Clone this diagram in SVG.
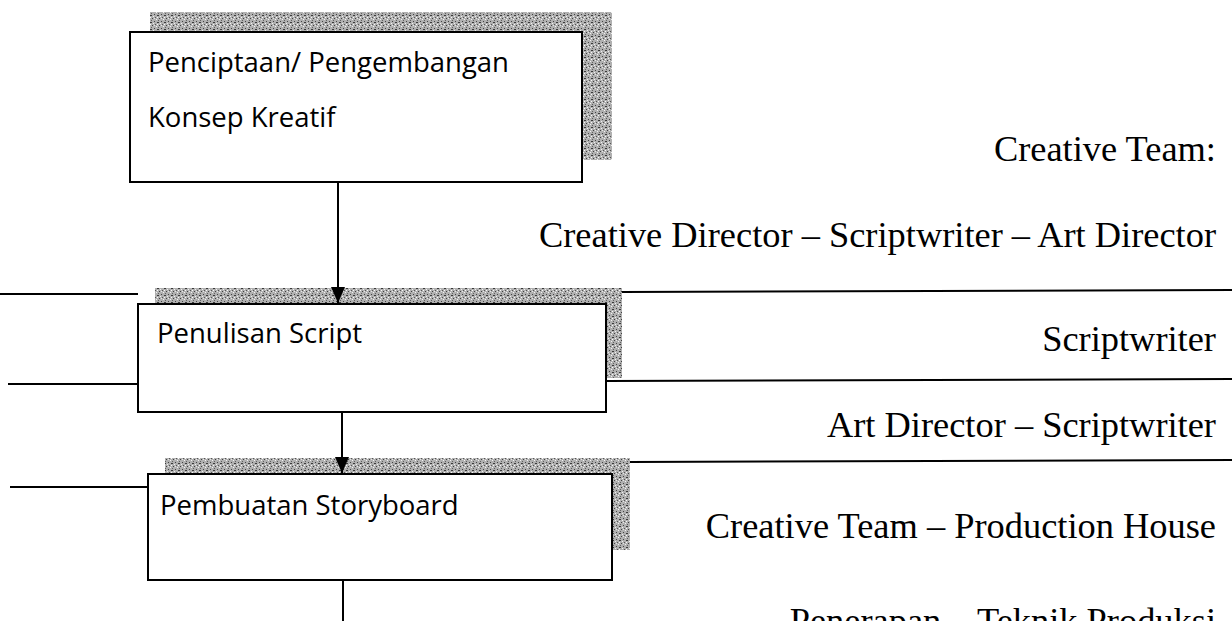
<svg xmlns="http://www.w3.org/2000/svg" width="1232" height="621" viewBox="0 0 1232 621">
  <defs>
    <pattern id="grain" width="7" height="7" patternUnits="userSpaceOnUse">
      <rect width="7" height="7" fill="#b0b0b0"/>
      <rect x="0" y="0" width="1" height="1" fill="#444"/>
      <rect x="3" y="1" width="2" height="1" fill="#3a3a3a"/>
      <rect x="1" y="3" width="1" height="1" fill="#555"/>
      <rect x="5" y="4" width="1" height="1" fill="#404040"/>
      <rect x="2" y="5" width="1" height="1" fill="#f2f2f2"/>
      <rect x="6" y="2" width="1" height="1" fill="#f0f0f0"/>
      <rect x="4" y="6" width="1" height="1" fill="#606060"/>
      <rect x="0" y="4" width="1" height="1" fill="#e8e8e8"/>
      <rect x="3" y="3" width="1" height="1" fill="#fafafa"/>
    </pattern>
    <marker id="arrow" viewBox="0 0 16 14" refX="16" refY="7" markerWidth="16" markerHeight="14" markerUnits="userSpaceOnUse" orient="auto">
      <path d="M0,0 L16,7 L0,14 z" fill="#000"/>
    </marker>
  </defs>
  <style>
    .shadow { fill: url(#grain); }
    .box { fill: #fff; stroke: #000; stroke-width: 2; }
    .boxtext { font-family: "Open Sans", "Liberation Sans", sans-serif; font-size: 27.5px; fill: #000; }
    .role { font-family: "Liberation Serif", serif; font-size: 36.4px; fill: #000; text-anchor: end; }
    .line { stroke: #000; stroke-width: 2; fill: none; }
  </style>
  <rect width="1232" height="621" fill="#fff"/>

  <g id="node-konsep">
    <rect class="shadow" x="150" y="12" width="462" height="148"/>
    <rect class="box" x="130" y="32" width="452" height="150"/>
    <text class="boxtext" x="148" y="72">Penciptaan/ Pengembangan</text>
    <text class="boxtext" x="148" y="127">Konsep Kreatif</text>
  </g>

  <g id="node-script">
    <rect class="shadow" x="155" y="288" width="467" height="90"/>
    <rect class="box" x="138" y="304" width="468" height="108"/>
    <text class="boxtext" x="157" y="343">Penulisan Script</text>
  </g>

  <g id="node-storyboard">
    <rect class="shadow" x="165" y="458" width="465" height="92"/>
    <rect class="box" x="148" y="474" width="464" height="106"/>
    <text class="boxtext" x="160" y="515">Pembuatan Storyboard</text>
  </g>

  <g id="connectors">
    <line class="line" x1="338" y1="182" x2="338" y2="303" marker-end="url(#arrow)"/>
    <line class="line" x1="342" y1="412" x2="342" y2="473" marker-end="url(#arrow)"/>
    <line class="line" x1="343" y1="580" x2="343" y2="621"/>
    <line class="line" x1="0" y1="294" x2="138" y2="294"/>
    <line class="line" x1="622" y1="292" x2="1232" y2="290"/>
    <line class="line" x1="8" y1="384" x2="138" y2="384"/>
    <line class="line" x1="606" y1="381" x2="1232" y2="379"/>
    <line class="line" x1="10" y1="487" x2="148" y2="487"/>
    <line class="line" x1="630" y1="462" x2="1232" y2="460"/>
  </g>

  <g id="labels">
    <text class="role" x="1216" y="161">Creative Team:</text>
    <text class="role" x="1216" y="247">Creative Director – Scriptwriter – Art Director</text>
    <text class="role" x="1216" y="351">Scriptwriter</text>
    <text class="role" x="1216" y="437">Art Director – Scriptwriter</text>
    <text class="role" x="1216" y="538">Creative Team – Production House</text>
    <text class="role" x="1216" y="633">Penerapan – Teknik Produksi</text>
  </g>
</svg>
